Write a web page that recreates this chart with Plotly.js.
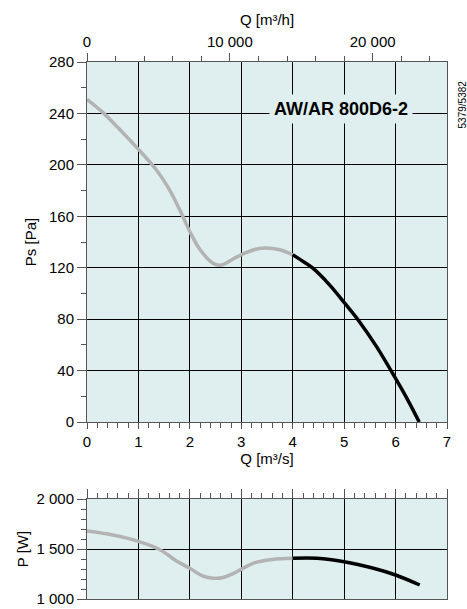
<!DOCTYPE html>
<html>
<head>
<meta charset="utf-8">
<script src="https://cdn.plot.ly/plotly-3.0.1.min.js"></script>
<style>html,body{margin:0;padding:0;background:#fff;}#chart{width:467px;height:609px;}</style>
</head>
<body>
<div id="chart"></div>
<script>
// Static pressure curve, Q [m³/s] vs Ps [Pa]
const qPsGrey  = [0, 0.3, 0.6, 1.0, 1.35, 1.6, 1.85, 2.0, 2.2, 2.45, 2.6, 2.85, 3.05, 3.35, 3.75, 4.0];
const psGrey   = [251, 241, 229, 212, 196, 181, 161, 148, 134, 123.5, 122, 127, 131, 135, 134, 130];
const qPsBlack = [4.0, 4.14, 4.38, 4.72, 5.02, 5.28, 5.63, 5.96, 6.22, 6.46];
const psBlack  = [130, 126.5, 120, 106.5, 92, 79, 58.6, 36.6, 18.4, 0];
// Power curve, Q [m³/s] vs P [W]
const qPGrey   = [0, 0.5, 1.0, 1.42, 1.74, 2.0, 2.25, 2.46, 2.65, 2.85, 3.23, 3.6, 4.0];
const pGrey    = [1680, 1640, 1577, 1493, 1380, 1307, 1230, 1207, 1215, 1257, 1357, 1395, 1407];
const qPBlack  = [4.0, 4.47, 5.0, 5.57, 6.0, 6.47];
const pBlack   = [1407, 1407, 1373, 1307, 1240, 1140];
const modelName = "AW/AR 800D6-2";
const docCode = "5379/5382";
const m3sToM3h = 3600;

const bg = '#dfefef';
const grey = '#b3b3b3';
const font = {family: '"Liberation Sans", Arial, sans-serif', size: 15, color: '#000'};

const lineCommon = {shape: 'spline', smoothing: 1, width: 3.5};
const traces = [
  {x: qPsGrey, y: psGrey, xaxis: 'x', yaxis: 'y', mode: 'lines', line: Object.assign({color: grey}, lineCommon), hoverinfo: 'skip'},
  {x: qPsBlack, y: psBlack, xaxis: 'x', yaxis: 'y', mode: 'lines', line: Object.assign({color: '#000'}, lineCommon), hoverinfo: 'skip'},
  {x: qPGrey, y: pGrey, xaxis: 'x3', yaxis: 'y3', mode: 'lines', line: Object.assign({color: grey}, lineCommon), hoverinfo: 'skip'},
  {x: qPBlack, y: pBlack, xaxis: 'x3', yaxis: 'y3', mode: 'lines', line: Object.assign({color: '#000'}, lineCommon), hoverinfo: 'skip'},
  // same pressure curve in m³/h, invisible, so that the top Q [m³/h] axis is drawn
  {x: qPsBlack.map(q => q * m3sToM3h), y: psBlack, xaxis: 'x2', yaxis: 'y', mode: 'lines', opacity: 0, line: {width: 0}, hoverinfo: 'skip'}
];

const axisLine = {showline: true, linecolor: '#555', linewidth: 1, zeroline: false, gridcolor: '#000', gridwidth: 1, tickcolor: '#555', tickfont: font, color: '#000'};

const layout = {
  width: 467, height: 609,
  margin: {l: 87, r: 20, t: 62, b: 10},
  paper_bgcolor: '#fff', plot_bgcolor: bg,
  showlegend: false,
  font: font,
  separators: '. ',
  xaxis: Object.assign({}, axisLine, {
    domain: [0, 1], anchor: 'y', range: [0, 7], dtick: 1, tick0: 0,
    ticks: 'outside', ticklen: 6, mirror: true, showgrid: true,
    minor: {dtick: 0.2, ticks: 'outside', ticklen: 5, tickcolor: '#555', showgrid: false},
    title: {text: 'Q [m³/s]', font: font, standoff: 4}
  }),
  xaxis2: Object.assign({}, axisLine, {
    overlaying: 'x', anchor: 'y', side: 'top', range: [0, 25200], dtick: 10000, tick0: 0,
    exponentformat: 'none', ticks: 'outside', ticklen: 8, showgrid: false,
    minor: {dtick: 2000, ticks: 'outside', ticklen: 5, tickcolor: '#555', showgrid: false},
    title: {text: 'Q [m³/h]', font: font, standoff: 3}
  }),
  yaxis: Object.assign({}, axisLine, {
    domain: [0.3296, 1], anchor: 'x', range: [0, 280], dtick: 40, tick0: 0,
    ticks: 'outside', ticklen: 9, mirror: true, showgrid: true,
    minor: {dtick: 20, ticks: 'outside', ticklen: 5, tickcolor: '#555', showgrid: false},
    title: {text: 'Ps [Pa]', font: font, standoff: 8}
  }),
  xaxis3: Object.assign({}, axisLine, {
    domain: [0, 1], anchor: 'y3', side: 'top', range: [0, 7], dtick: 1, tick0: 0,
    ticks: 'outside', ticklen: 9, mirror: true, showgrid: true, showticklabels: false,
    minor: {dtick: 0.2, ticks: 'outside', ticklen: 5, tickcolor: '#555', showgrid: false}
  }),
  yaxis3: Object.assign({}, axisLine, {
    domain: [0, 0.1862], anchor: 'x3', range: [1000, 2000], dtick: 500, tick0: 1000,
    separatethousands: true,
    ticks: 'outside', ticklen: 9, mirror: true, showgrid: true,
    minor: {dtick: 100, ticks: 'outside', ticklen: 5, tickcolor: '#555', showgrid: false},
    title: {text: 'P [W]', font: font, standoff: 4}
  }),
  annotations: [
    {text: '<b>' + modelName + '</b>', xref: 'x', yref: 'y', x: 4.94, y: 243.5,
     showarrow: false, bgcolor: bg, borderpad: 4,
     font: {family: font.family, size: 18, color: '#000'}},
    {text: docCode, xref: 'paper', yref: 'paper', x: 1.0, xanchor: 'left', xshift: 8,
     y: 0.92, yanchor: 'middle', showarrow: false, textangle: -90,
     font: {family: font.family, size: 10, color: '#000'}}
  ]
};

Plotly.newPlot('chart', traces, layout, {staticPlot: true, displayModeBar: false});
</script>
</body>
</html>
